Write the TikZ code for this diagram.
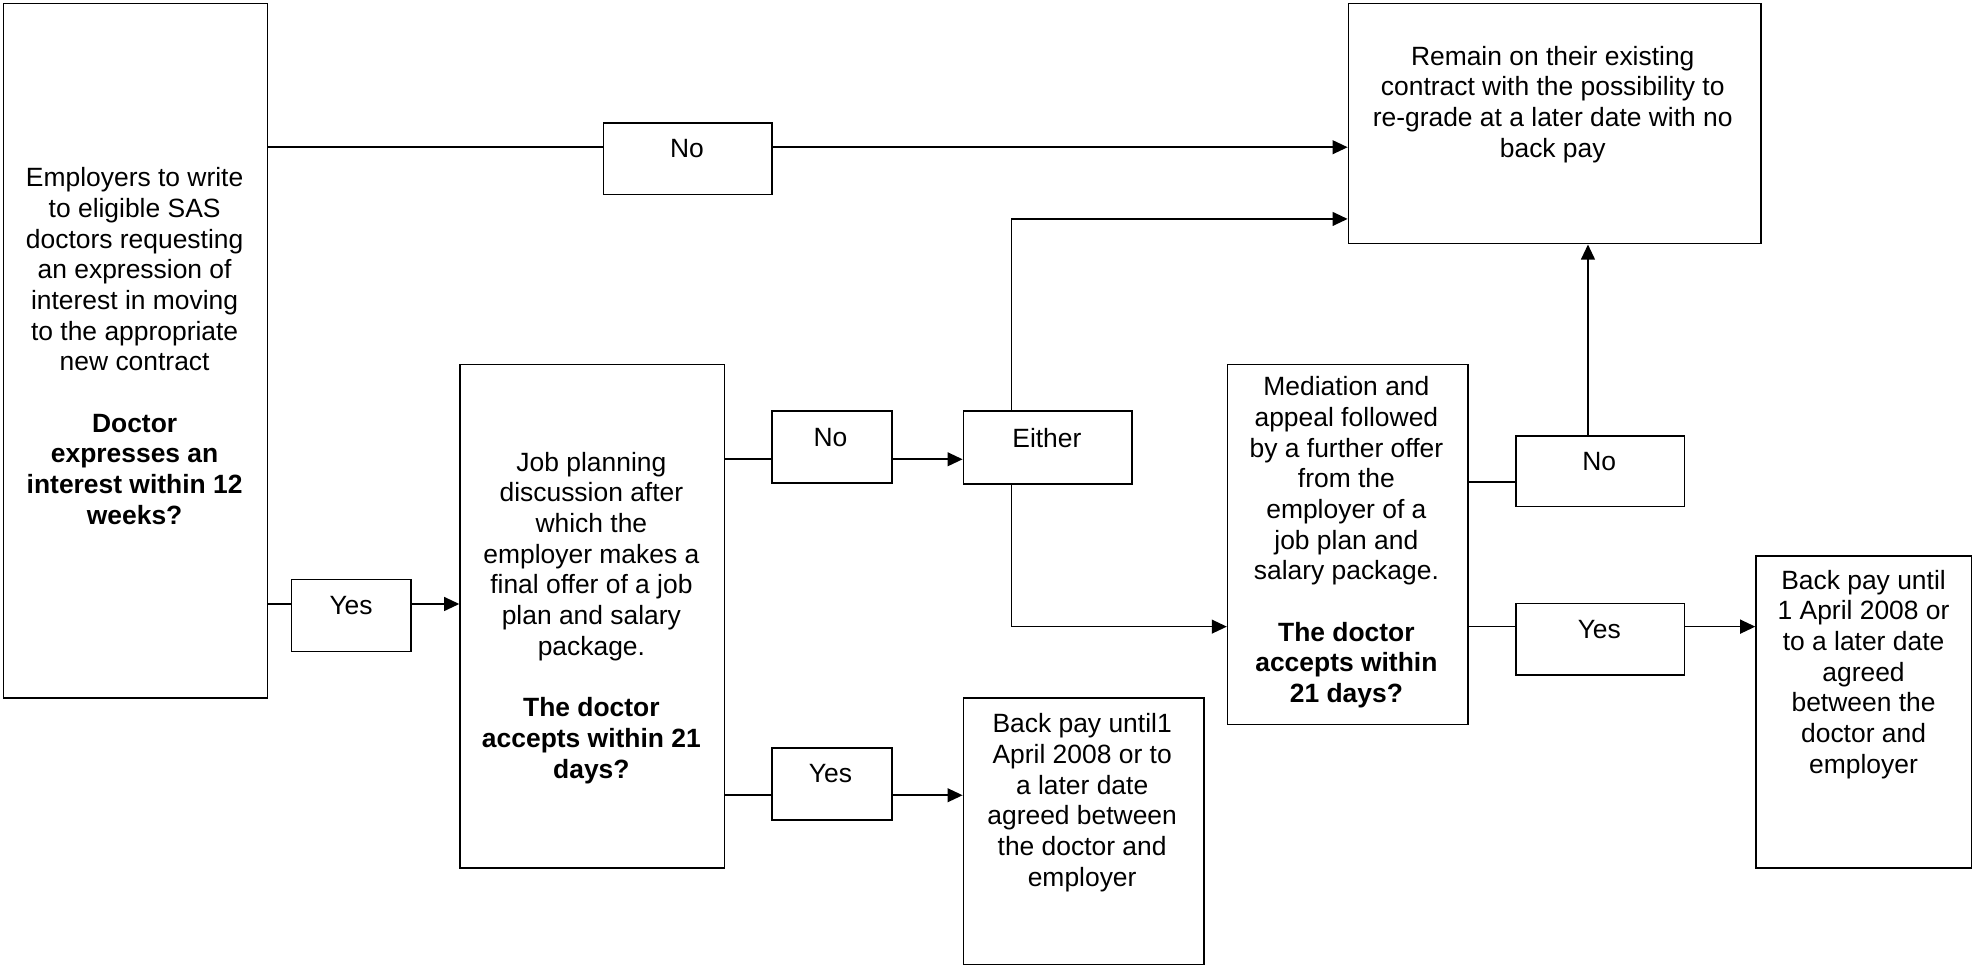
\documentclass[tikz,border=0pt]{standalone}
\usepackage{fontspec}
\setmainfont{Liberation Sans}
\usetikzlibrary{arrows.meta}
\begin{document}
\begin{tikzpicture}[x=1pt,y=-1pt,
  box/.style={draw, line width=1.3pt, inner sep=0pt, anchor=north west},
  txt/.style={align=center, inner sep=0pt, font=\fontsize{21}{24.4}\selectfont},
  conn/.style={line width=1.3pt},
  arr/.style={conn, -{Triangle[length=12pt,width=11pt]}}]
\useasboundingbox (0,0) rectangle (1568,768);
% boxes
\node[box, minimum width=210pt, minimum height=552pt] (A) at (2,2) {};
\node[box, minimum width=134pt, minimum height=57pt] (No1) at (479,97) {};
\node[box, minimum width=328pt, minimum height=191pt] (R) at (1071,2) {};
\node[box, minimum width=210pt, minimum height=400pt] (J) at (365,289) {};
\node[box, minimum width=95pt, minimum height=57pt] (No2) at (613,326) {};
\node[box, minimum width=134pt, minimum height=58pt] (E) at (765,326) {};
\node[box, minimum width=95pt, minimum height=57pt] (Y1) at (231,460) {};
\node[box, minimum width=95pt, minimum height=57pt] (Y2) at (613,594) {};
\node[box, minimum width=191pt, minimum height=212pt] (B1) at (765,554) {};
\node[box, minimum width=191pt, minimum height=286pt] (M) at (975,289) {};
\node[box, minimum width=134pt, minimum height=56pt] (No3) at (1204,346) {};
\node[box, minimum width=134pt, minimum height=57pt] (Y3) at (1204,479) {};
\node[box, minimum width=171pt, minimum height=248pt] (B2) at (1395,441) {};
% texts
\node[txt] (tA) at (107,275) {Employers to write\\to eligible SAS\\doctors requesting\\an expression of\\interest in moving\\to the appropriate\\new contract\\[24.4pt]\textbf{Doctor}\\\textbf{expresses an}\\\textbf{interest within 12}\\\textbf{weeks?}};
\node[txt] (tNo1) at (546,118) {No};
\node[txt] (tR) at (1234,83) {Remain on their existing\\contract with the possibility to\\re-grade at a later date with no\\back pay};
\node[txt] (tJ) at (470,491) {Job planning\\discussion after\\which the\\employer makes a\\final offer of a job\\plan and salary\\package.\\[24.4pt]\textbf{The doctor}\\\textbf{accepts within 21}\\\textbf{days?}};
\node[txt] (tNo2) at (660,348) {No};
\node[txt] (tE) at (832,348) {Either};
\node[txt] (tY1) at (279,481) {Yes};
\node[txt] (tY2) at (660,615) {Yes};
\node[txt] (tB1) at (860,638) {Back pay until1\\April 2008 or to\\a later date\\agreed between\\the doctor and\\employer};
\node[txt] (tM) at (1070,431) {Mediation and\\appeal followed\\by a further offer\\from the\\employer of a\\job plan and\\salary package.\\[24.4pt]\textbf{The doctor}\\\textbf{accepts within}\\\textbf{21 days?}};
\node[txt] (tNo3) at (1271,367) {No};
\node[txt] (tY3) at (1271,500) {Yes};
\node[txt] (tB2) at (1481,536) {Back pay until\\1 April 2008 or\\to a later date\\agreed\\between the\\doctor and\\employer};
% routing coordinates
\coordinate (r1) at (0,117);
\coordinate (r2) at (0,480);
\coordinate (r3) at (0,365);
\coordinate (r4) at (0,632);
\coordinate (r7) at (0,383);
\coordinate (c1) at (804,174);
\coordinate (c2) at (804,498);
\coordinate (c3) at (1262,0);
% connectors
\draw[conn] (r1 -| A.east) -- (r1 -| No1.west);
\draw[arr] (r1 -| No1.east) -- (r1 -| R.west);
\draw[conn] (r2 -| A.east) -- (r2 -| Y1.west);
\draw[arr] (r2 -| Y1.east) -- (r2 -| J.west);
\draw[conn] (r3 -| J.east) -- (r3 -| No2.west);
\draw[arr] (r3 -| No2.east) -- (r3 -| E.west);
\draw[conn] (r4 -| J.east) -- (r4 -| Y2.west);
\draw[arr] (r4 -| Y2.east) -- (r4 -| B1.west);
\draw[arr] (c1 |- E.north) -- (c1) -- (c1 -| R.west);
\draw[arr] (c2 |- E.south) -- (c2) -- (c2 -| M.west);
\draw[conn] (r7 -| M.east) -- (r7 -| No3.west);
\draw[arr] (c3 |- No3.north) -- (c3 |- R.south);
\draw[conn] (c2 -| M.east) -- (c2 -| Y3.west);
\draw[arr] (c2 -| Y3.east) -- (c2 -| B2.west);
\end{tikzpicture}
\end{document}
